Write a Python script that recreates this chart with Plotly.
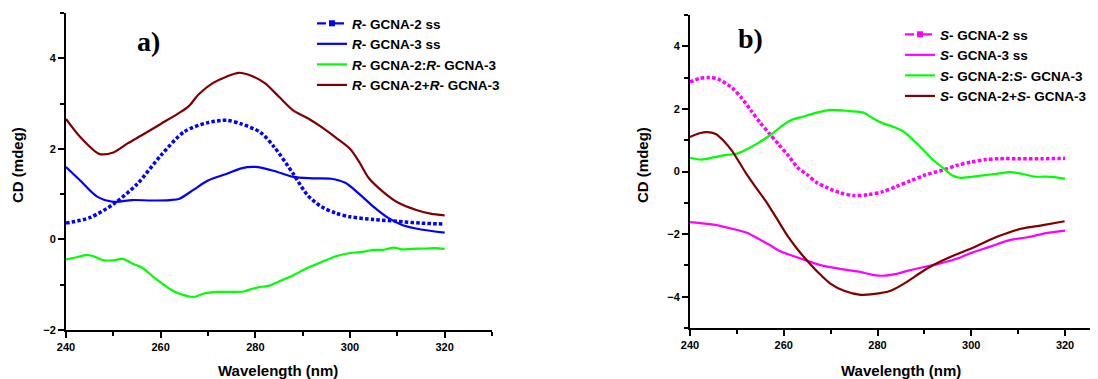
import plotly.graph_objects as go

# ---------------- Panel a) data ----------------
a_ss2_x = [240, 245, 250, 255, 260, 265, 270, 274, 277, 281, 284, 288, 291, 294, 297, 300, 305, 310, 315, 320]
a_ss2_y = [0.36, 0.48, 0.78, 1.22, 1.85, 2.38, 2.58, 2.63, 2.55, 2.37, 2.04, 1.45, 0.98, 0.72, 0.58, 0.50, 0.44, 0.40, 0.36, 0.34]

a_ss3_x = [240, 243, 246.5, 250, 254, 258, 262, 264, 267, 270, 274, 277, 280, 284, 288, 292, 296, 299, 302, 305, 308, 311, 315, 320]
a_ss3_y = [1.60, 1.30, 0.95, 0.83, 0.87, 0.86, 0.87, 0.90, 1.10, 1.30, 1.45, 1.57, 1.60, 1.51, 1.38, 1.35, 1.34, 1.25, 1.00, 0.72, 0.48, 0.32, 0.22, 0.15]

a_dup_x = [240, 242, 244.4, 246, 248, 250, 252, 254, 256, 258.5, 260, 262, 264, 267, 269, 272, 277.5, 279, 281, 283, 285, 288, 291, 294, 297, 300, 303, 305, 307, 309.3, 311, 313, 316, 318, 320]
a_dup_y = [-0.44, -0.40, -0.34, -0.38, -0.46, -0.46, -0.43, -0.53, -0.62, -0.83, -0.95, -1.10, -1.20, -1.27, -1.20, -1.16, -1.15, -1.10, -1.05, -1.02, -0.93, -0.79, -0.63, -0.50, -0.37, -0.30, -0.27, -0.23, -0.23, -0.18, -0.22, -0.21, -0.20, -0.19, -0.21]

a_mix_x = [240, 243, 247, 250, 253, 256, 260, 264, 266, 268, 271, 274, 276.5, 279, 282, 285, 288, 291, 294, 297, 300, 302, 304, 307, 310, 314, 317, 320]
a_mix_y = [2.66, 2.26, 1.89, 1.92, 2.12, 2.30, 2.55, 2.80, 2.95, 3.20, 3.45, 3.60, 3.68, 3.62, 3.45, 3.15, 2.85, 2.68, 2.48, 2.25, 2.00, 1.70, 1.35, 1.05, 0.82, 0.65, 0.57, 0.53]

# ---------------- Panel b) data ----------------
b_ss2_x = [240, 242, 244, 246, 249, 251, 253, 255, 257, 259, 261, 263, 265, 267, 269, 272, 275, 278, 281, 284, 287, 290, 294, 297, 300, 303, 306, 310, 315, 320]
b_ss2_y = [2.86, 2.97, 3.00, 2.95, 2.67, 2.35, 1.95, 1.55, 1.20, 0.85, 0.50, 0.12, -0.10, -0.35, -0.50, -0.68, -0.77, -0.74, -0.65, -0.48, -0.30, -0.12, 0.05, 0.20, 0.30, 0.38, 0.41, 0.41, 0.41, 0.42]

b_ss3_x = [240, 245, 249, 252, 254, 257, 259, 262, 265, 268, 272, 276, 279, 281, 284, 287, 290, 293, 297, 300, 304, 308, 312, 316, 320]
b_ss3_y = [-1.62, -1.70, -1.83, -1.95, -2.10, -2.35, -2.53, -2.70, -2.85, -3.00, -3.11, -3.20, -3.30, -3.33, -3.27, -3.15, -3.05, -2.95, -2.78, -2.60, -2.40, -2.20, -2.10, -1.97, -1.89]

b_dup_x = [240, 242.5, 245, 247.8, 250, 252, 254.3, 257, 259.3, 261.4, 264, 267, 270, 274, 277, 279, 281.3, 283, 285.6, 288, 289.9, 292, 294.2, 296, 297.5, 300, 302, 305, 308.4, 311, 313.4, 317, 320]
b_dup_y = [0.44, 0.38, 0.45, 0.53, 0.57, 0.70, 0.89, 1.15, 1.42, 1.63, 1.75, 1.88, 1.97, 1.93, 1.88, 1.70, 1.53, 1.45, 1.27, 0.95, 0.67, 0.35, 0.09, -0.13, -0.20, -0.17, -0.13, -0.08, -0.02, -0.08, -0.16, -0.17, -0.23]

b_mix_x = [240, 242, 243.6, 245.5, 247.1, 249, 252, 254, 256.4, 258.5, 261, 263, 265, 267.5, 270, 273, 276.4, 279, 282.8, 286, 289, 292, 296, 300.6, 305.6, 310.6, 315, 319.9]
b_mix_y = [1.10, 1.22, 1.26, 1.20, 0.99, 0.65, -0.07, -0.50, -1.00, -1.50, -2.10, -2.50, -2.85, -3.25, -3.59, -3.82, -3.94, -3.92, -3.81, -3.55, -3.25, -2.98, -2.70, -2.42, -2.08, -1.83, -1.72, -1.59]

names_a = ["<i>R</i>- GCNA-2 ss", "<i>R</i>- GCNA-3 ss", "<i>R</i>- GCNA-2:<i>R</i>- GCNA-3", "<i>R</i>- GCNA-2+<i>R</i>- GCNA-3"]
names_b = ["<i>S</i>- GCNA-2 ss", "<i>S</i>- GCNA-3 ss", "<i>S</i>- GCNA-2:<i>S</i>- GCNA-3", "<i>S</i>- GCNA-2+<i>S</i>- GCNA-3"]

BLUE = "#0000FF"
GREEN = "#00FF00"
BROWN = "#800000"
MAG = "#FF00FF"

W, H = 1098, 379
OFF = 8  # page body margin in the browser
FONT = "Arial, 'Liberation Sans', sans-serif"


def px(p):
    return (p - OFF) / W


def py(p):
    return 1 - (p - OFF) / H


fig = go.Figure()


def curve(x, y, color, xa, ya, name, legend, dash="solid", width=2.2, show=True):
    fig.add_trace(go.Scatter(
        x=x, y=y, mode="lines", name=name, legend=legend, showlegend=show,
        line=dict(color=color, width=width, dash=dash, shape="spline", smoothing=0.8),
        xaxis=xa, yaxis=ya, hoverinfo="skip"))


def legend_marker_entry(color, name, legend, dash, xa, ya):
    fig.add_trace(go.Scatter(
        x=[None], y=[None], mode="lines+markers", name=name, legend=legend,
        line=dict(color=color, width=2.2, dash=dash),
        marker=dict(symbol="square", size=6, color=color),
        xaxis=xa, yaxis=ya))


# Panel a
curve(a_ss2_x, a_ss2_y, BLUE, "x", "y", names_a[0], "legend", dash="3.5px,2.2px", width=3.5, show=False)
legend_marker_entry(BLUE, names_a[0], "legend", "dashdot", "x", "y")
curve(a_ss3_x, a_ss3_y, BLUE, "x", "y", names_a[1], "legend")
curve(a_dup_x, a_dup_y, GREEN, "x", "y", names_a[2], "legend")
curve(a_mix_x, a_mix_y, BROWN, "x", "y", names_a[3], "legend")

# Panel b
curve(b_ss2_x, b_ss2_y, MAG, "x2", "y2", names_b[0], "legend2", dash="3.5px,2.2px", width=3.5, show=False)
legend_marker_entry(MAG, names_b[0], "legend2", "dash", "x2", "y2")
curve(b_ss3_x, b_ss3_y, MAG, "x2", "y2", names_b[1], "legend2")
curve(b_dup_x, b_dup_y, GREEN, "x2", "y2", names_b[2], "legend2")
curve(b_mix_x, b_mix_y, BROWN, "x2", "y2", names_b[3], "legend2")

tickfont = dict(family=FONT, size=11, color="black", weight="bold")
axis_common = dict(showline=True, linewidth=2, linecolor="black", showgrid=False, zeroline=False,
                   ticks="outside", ticklen=6, tickwidth=2, tickcolor="black", tickfont=tickfont,
                   mirror=False, automargin=False)
minor_common = dict(ticks="outside", ticklen=4, tickwidth=2, tickcolor="black", showgrid=False)
legend_font = dict(family=FONT, size=13.5, color="black", weight="bold")

fig.update_layout(
    template="none",
    width=W, height=H,
    margin=dict(l=0, r=0, t=0, b=0, pad=0, autoexpand=False),
    paper_bgcolor="white", plot_bgcolor="white",
    xaxis=dict(domain=[px(66), px(492)], range=[240, 330], tickvals=[240, 260, 280, 300, 320],
               minor=dict(dtick=10, tick0=240, **minor_common), anchor="y", **axis_common),
    yaxis=dict(domain=[py(330), py(13)], range=[-2, 5], tickvals=[-2, 0, 2, 4], ticklabelstandoff=0,
               minor=dict(dtick=1, tick0=0, **minor_common), anchor="x", **axis_common),
    xaxis2=dict(domain=[px(690), px(1096)], range=[240, 326.6], tickvals=[240, 260, 280, 300, 320],
                minor=dict(dtick=10, tick0=240, **minor_common), anchor="y2", **axis_common),
    yaxis2=dict(domain=[py(328), py(15)], range=[-5, 5], tickvals=[-4, -2, 0, 2, 4], ticklabelstandoff=0,
                minor=dict(dtick=1, tick0=0, **minor_common), anchor="x2", **axis_common),
    legend=dict(x=px(312), y=py(8), xanchor="left", yanchor="top", bgcolor="rgba(0,0,0,0)",
                font=legend_font, tracegroupgap=0),
    legend2=dict(x=px(900), y=py(19), xanchor="left", yanchor="top", bgcolor="rgba(0,0,0,0)",
                 font=legend_font, tracegroupgap=0),
    showlegend=True,
)

title_font = dict(family=FONT, size=15, color="black", weight="bold")
serif_font = dict(family="'Liberation Serif', 'Times New Roman', serif", size=28, color="black", weight="bold")
annots = [
    dict(text="CD (mdeg)", x=px(18), y=py(165), textangle=-90, font=title_font),
    dict(text="CD (mdeg)", x=px(643), y=py(165), textangle=-90, font=title_font),
    dict(text="Wavelength (nm)", x=px(278), y=py(370), font=title_font),
    dict(text="Wavelength (nm)", x=px(901), y=py(370), font=title_font),
    dict(text="a)", x=px(148), y=py(41), font=serif_font),
    dict(text="b)", x=px(750), y=py(38), font=serif_font),
]
for a in annots:
    fig.add_annotation(xref="paper", yref="paper", showarrow=False, xanchor="center", yanchor="middle", **a)

fig.write_html("out.html")
